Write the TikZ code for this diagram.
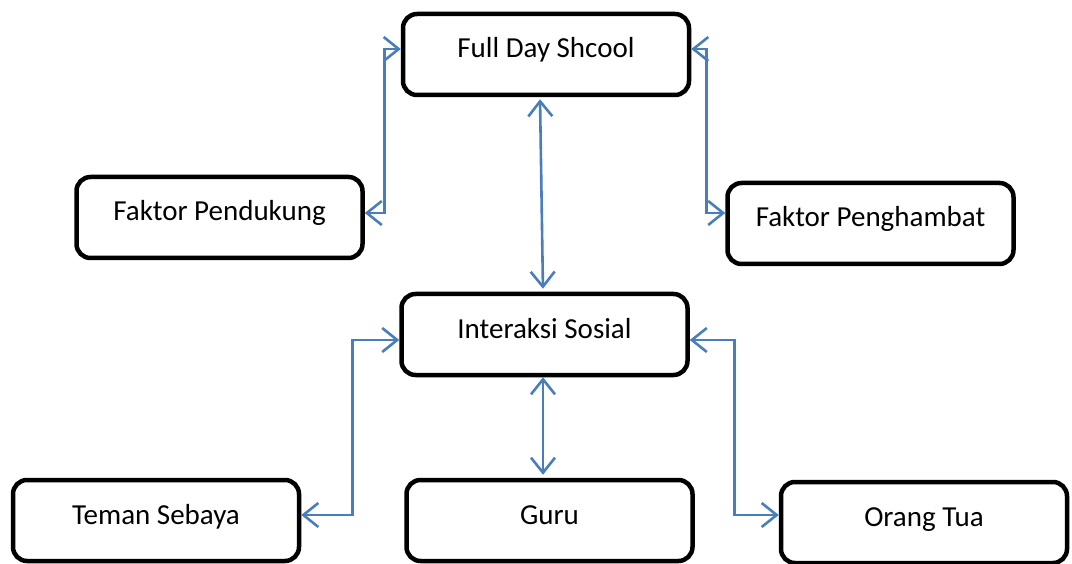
\documentclass[tikz,border=0pt]{standalone}
\usepackage{fontspec}
\setmainfont{Carlito}
\usepackage{xcolor}
\usepackage{tikz}
\usetikzlibrary{arrows,arrows.meta,calc}

\definecolor{linkblue}{RGB}{74,126,187}

\begin{document}
\begin{tikzpicture}[x=1pt, y=-1pt, >={Straight Barb[length=15pt,width=24pt,line width=2.6pt]},
  box/.style={draw=black, line width=4.5pt, rounded corners=14pt, inner sep=0pt,
    minimum width=286pt, text height=44pt, text depth=37pt,
    font=\fontsize{29}{34}\selectfont},
  link/.style={<->, draw=linkblue, line width=2.6pt}]

\useasboundingbox (0,0) rectangle (1072,564);

\node[box] (fds) at (546, 54.5) {Full Day Shcool};
\node[box] (fpd) at (219.5, 217.5) {Faktor Pendukung};
\node[box] (fph) at (870.5, 223.5) {Faktor Penghambat};
\node[box] (isos) at (544.5, 334.5) {Interaksi Sosial};

\node[box] (teman) at (156, 520.5) {Teman Sebaya};
\node[box] (guru) at (549.5, 520.5) {Guru};
\node[box] (ortu) at (924, 522.5) {Orang Tua};

% top row
\draw[link, shorten <=2pt, shorten >=3pt] ([xshift=-6pt]fds.south) -- ([xshift=-1.5pt]isos.north);
\draw[link] ([yshift=5.5pt]fds.west) -- ++(-16,0) |- ([yshift=4.5pt]fpd.east);
\draw[link] ([yshift=5.5pt]fds.east) -- ++(15,0) |- ([yshift=10.5pt]fph.west);

% bottom row
\draw[link, shorten >=3pt] ([xshift=-1.5pt]isos.south) -- ([xshift=-1.5pt]isos.south |- guru.north);
\draw[link] ([yshift=-5.5pt]isos.west) -- ++(-47,0) |- ([yshift=5.5pt]teman.east);
\draw[link] ([yshift=-5.5pt]isos.east) -- ++(45,0) |- ([yshift=7.5pt]ortu.west);

\end{tikzpicture}
\end{document}
